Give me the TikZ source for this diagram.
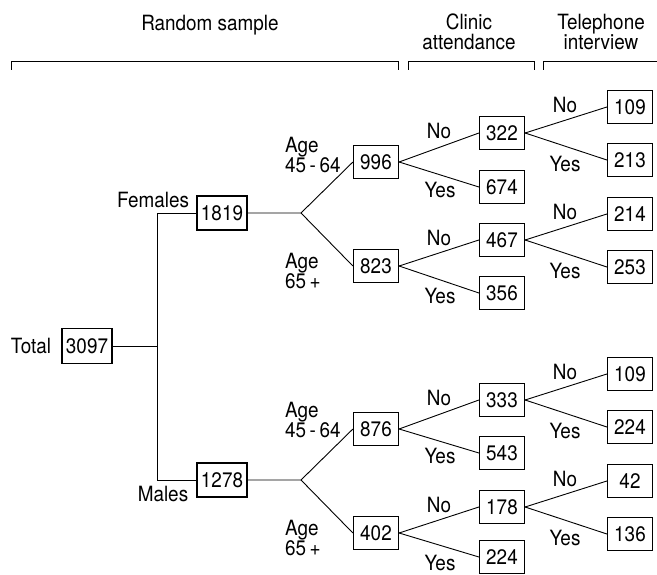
\documentclass[tikz,border=0pt]{standalone}
\usepackage{fontspec}
\setmainfont{TeX Gyre Heros}[FakeStretch=0.9]
\begin{document}
\begin{tikzpicture}[x=1pt,y=-1pt,
  font=\fontsize{21}{20}\selectfont,
  bx/.style={draw, line width=1.2pt, minimum width=45pt, minimum height=33pt, inner sep=0pt},
  wbx/.style={bx, minimum width=50pt, minimum height=34pt},
  ln/.style={line width=0.9pt},
  txt/.style={inner sep=0pt, align=left}]
\useasboundingbox (0,0) rectangle (657,575);

% header
\node[txt] (hrs) at (210,25) {Random sample};
\node[txt, align=center] (hca) at (469,32) {Clinic\\attendance};
\node[txt, align=center] (hti) at (601,32) {Telephone\\interview};
\draw[ln] (11,70) -- (11,61) -- (398,61) -- (398,70);
\draw[ln] (408,70) -- (408,61) -- (534,61) -- (534,70);
\draw[ln] (543,70) -- (543,61) -- (657,61);

% left part
\node[txt] (ltot) at (31,346) {Total};
\node[wbx, minimum height=35pt] (t) at (87,346) {3097};
\node[txt] (lfem) at (153,200) {Females};
\node[txt] (lmal) at (163,494) {Males};
\node[wbx] (f) at (222,213) {1819};
\node[wbx] (m) at (222,480) {1278};
\coordinate (jv) at (157,346);
\draw[ln] (t.east) -- (jv);
\draw[ln] (f.west) -| (jv);
\draw[ln] (m.west) -| (jv);

% age labels
\node[txt, anchor=west] (a1) at (285,155) {Age\\45\,-\,64};
\node[txt, anchor=west] (a2) at (285,271) {Age\\65\,+};
\node[txt, anchor=west] (a3) at (285,420) {Age\\45\,-\,64};
\node[txt, anchor=west] (a4) at (285,538) {Age\\65\,+};

% females
\node[bx] (f1) at (376,162) {996};
\node[bx] (f2) at (376,266) {823};
\node[bx] (f1n) at (502,133) {322};
\node[bx] (f1y) at (502,187) {674};
\node[bx] (f2n) at (502,240) {467};
\node[bx] (f2y) at (502,293) {356};
\node[bx] (f1nn) at (630,107) {109};
\node[bx] (f1ny) at (630,160) {213};
\node[bx] (f2nn) at (630,214) {214};
\node[bx] (f2ny) at (630,267) {253};

% males
\node[bx] (m1) at (376,429) {876};
\node[bx] (m2) at (376,533) {402};
\node[bx] (m1n) at (502,400) {333};
\node[bx] (m1y) at (502,453) {543};
\node[bx] (m2n) at (502,507) {178};
\node[bx] (m2y) at (502,557) {224};
\node[bx] (m1nn) at (630,374) {109};
\node[bx] (m1ny) at (630,427) {224};
\node[bx] (m2nn) at (630,481) {42};
\node[bx] (m2ny) at (630,534) {136};

% branches
\coordinate (fb) at (301,213);
\coordinate (mb) at (301,480);
\draw[ln] (f.east) -- (fb) -- (f1.west);
\draw[ln] (fb) -- (f2.west);
\draw[ln] (m.east) -- (mb) -- (m1.west);
\draw[ln] (mb) -- (m2.west);

\foreach \a/\b in {f1/f1n,f1/f1y,f2/f2n,f2/f2y,f1n/f1nn,f1n/f1ny,f2n/f2nn,f2n/f2ny,
                   m1/m1n,m1/m1y,m2/m2n,m2/m2y,m1n/m1nn,m1n/m1ny,m2n/m2nn,m2n/m2ny}
  \draw[ln] (\a.east) -- (\b.west);

% yes/no labels
\node[txt] (n1) at (439,131) {No};
\node[txt] (y1) at (440,190) {Yes};
\node[txt] (n2) at (439,238) {No};
\node[txt] (y2) at (440,296) {Yes};
\node[txt] (n3) at (439,398) {No};
\node[txt] (y3) at (440,456) {Yes};
\node[txt] (n4) at (439,505) {No};
\node[txt] (y4) at (440,563) {Yes};
\node[txt] (n5) at (565,105) {No};
\node[txt] (y5) at (565,164) {Yes};
\node[txt] (n6) at (565,212) {No};
\node[txt] (y6) at (565,271) {Yes};
\node[txt] (n7) at (565,372) {No};
\node[txt] (y7) at (565,431) {Yes};
\node[txt] (n8) at (565,479) {No};
\node[txt] (y8) at (565,538) {Yes};
\end{tikzpicture}
\end{document}
